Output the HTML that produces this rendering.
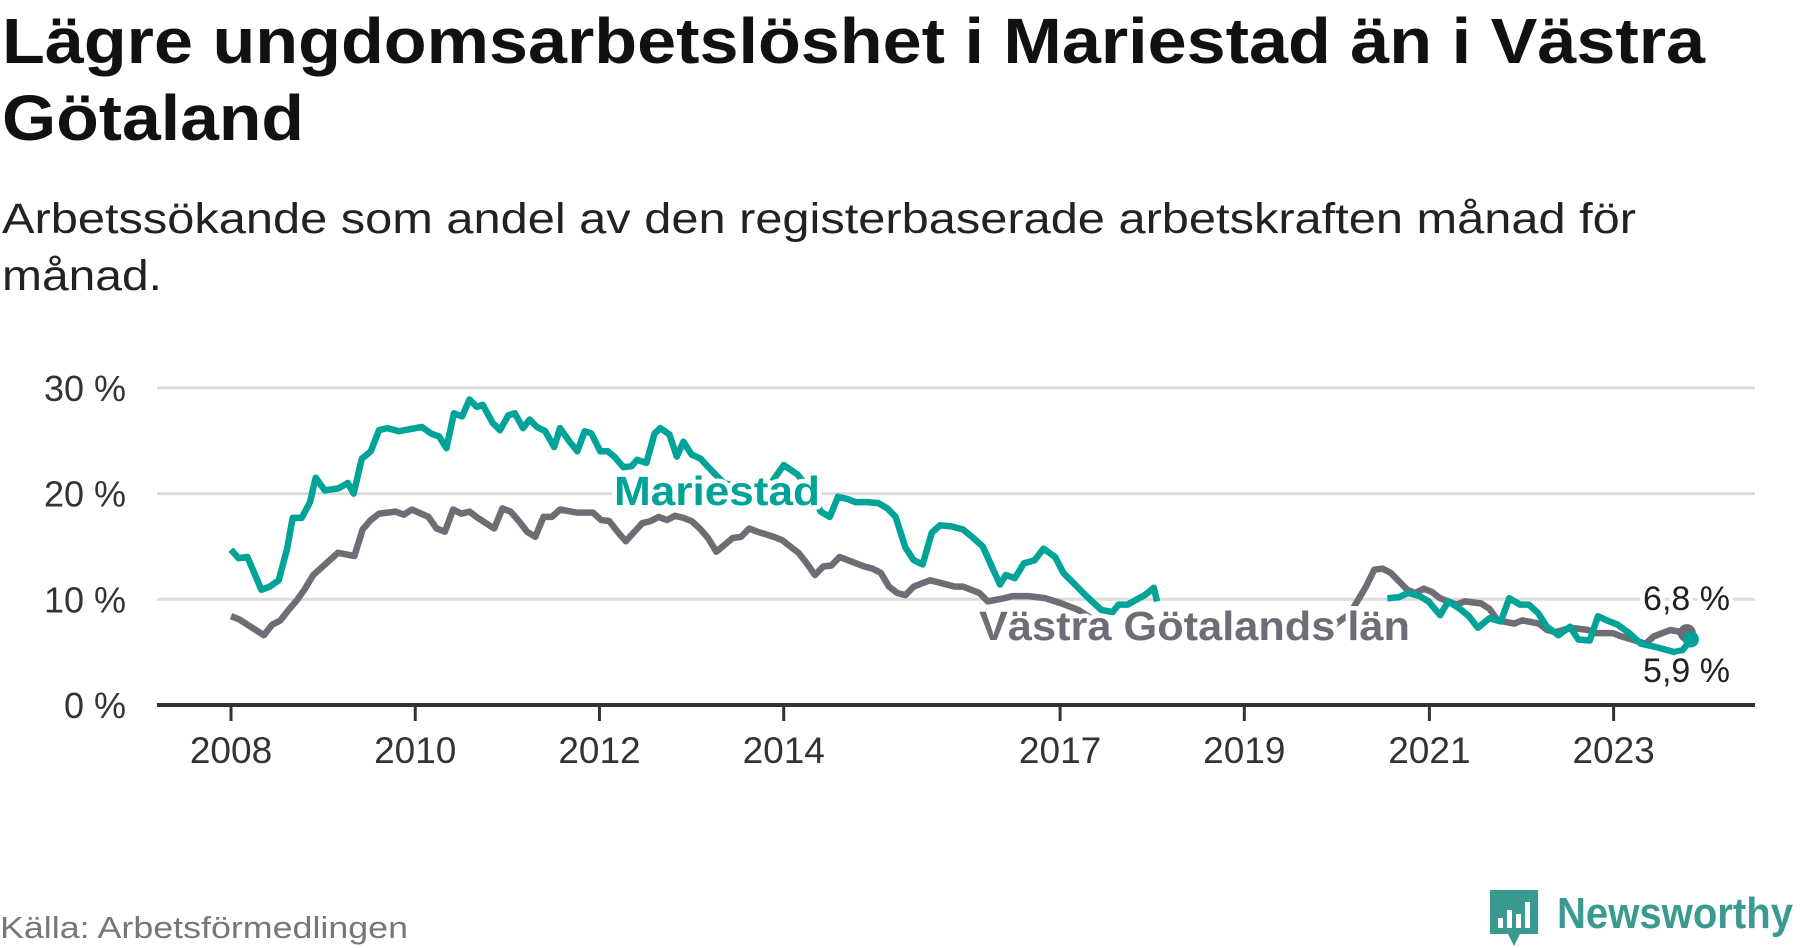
<!DOCTYPE html>
<html><head><meta charset="utf-8"><style>
html,body{margin:0;padding:0;background:#fff;width:1800px;height:948px;overflow:hidden}
svg{display:block}
text{font-family:"Liberation Sans",sans-serif}
</style></head><body>
<svg id="chart" width="1800" height="948" viewBox="0 0 1800 948" xmlns="http://www.w3.org/2000/svg">
<text x="2" y="63" font-size="64" font-weight="bold" fill="#111" textLength="1703" lengthAdjust="spacingAndGlyphs">Lägre ungdomsarbetslöshet i Mariestad än i Västra</text>
<text x="2" y="140" font-size="64" font-weight="bold" fill="#111" textLength="302" lengthAdjust="spacingAndGlyphs">Götaland</text>
<text x="2" y="233" font-size="43" fill="#222" textLength="1634" lengthAdjust="spacingAndGlyphs">Arbetssökande som andel av den registerbaserade arbetskraften månad för</text>
<text x="2" y="290" font-size="43" fill="#222" textLength="160" lengthAdjust="spacingAndGlyphs">månad.</text>
<g id="grid"></g>
<g id="axes"></g>
<g id="series"></g>
<g id="labels"></g>
<text x="0" y="938" font-size="31" fill="#777" textLength="408" lengthAdjust="spacingAndGlyphs">Källa: Arbetsförmedlingen</text>
<g>
<path d="M1490 890 h48 v44 h-18 l-6 12 l-6 -12 h-18 z" fill="#3a9a8f"/>
<rect x="1498" y="918" width="5" height="10" fill="#fff"/>
<rect x="1507" y="910" width="5" height="18" fill="#fff"/>
<rect x="1516" y="914" width="5" height="14" fill="#fff"/>
<rect x="1525" y="902" width="5" height="26" fill="#fff"/>
<text x="1557" y="928" font-size="44" font-weight="bold" fill="#3a9a8f" textLength="236" lengthAdjust="spacingAndGlyphs">Newsworthy</text>
</g>
</svg>
<script>
const yTicks=[0,10,20,30];
const yTickLabels=["0 %","10 %","20 %","30 %"];
const xTickIdx=[0,22.4,44.8,67.2,100.8,123.2,145.7,168.1];
const xTickLabels=["2008","2010","2012","2014","2017","2019","2021","2023"];
const grayMonths=[0,1,2,4,5,6,7,8,9,10,12,13,15,16,17,18,20,21,22,24,25,26,27,28,29,30,31,32,33,34,35,36,37,38,39,40,42,44,45,46,47,48,50,51,52,53,54,55,56,57,58,59,61,62,63,64,66,67,68,69,70,71,72,73,74,75,77,78,79,80,81,82,83,84,85,86,88,89,91,92,94,95,97,99,101,103,105,null,134,136,137,138,139,140,141,142,143,144,145,146,147,149,150,152,153,154,156,157,159,160,161,163,165,166,168,169,172,173,175,177];
const grayValues=[8.4,8.1,7.6,6.6,7.6,8.0,9.0,9.9,11.0,12.3,13.7,14.4,14.1,16.6,17.5,18.1,18.3,18.0,18.5,17.8,16.7,16.4,18.5,18.1,18.3,17.7,17.2,16.7,18.6,18.3,17.4,16.4,15.9,17.8,17.8,18.5,18.2,18.2,17.5,17.4,16.4,15.5,17.2,17.4,17.8,17.5,17.9,17.7,17.4,16.7,15.8,14.5,15.8,15.9,16.7,16.4,15.9,15.6,15.0,14.4,13.4,12.3,13.1,13.2,14.0,13.7,13.1,12.9,12.5,11.2,10.6,10.4,11.2,11.5,11.8,11.6,11.2,11.2,10.6,9.8,10.1,10.3,10.3,10.1,9.6,9.0,8.0,null,7.5,8.6,9.9,11.2,12.8,12.9,12.5,11.7,10.9,10.6,11.0,10.7,10.1,9.5,9.8,9.6,9.1,8.0,7.7,8.0,7.7,7.1,6.9,7.3,7.1,6.8,6.8,6.5,5.8,6.5,7.1,6.8];
const mariMonths=[0,0.9,2,3.7,4.7,5.8,6.8,7.5,8.6,9.6,10.3,11.4,13.1,14.2,14.9,15.9,17,18,19,20.4,23.2,24.3,25.3,26.2,27.1,28.1,29,29.9,30.6,31.8,32.7,33.7,34.5,35.5,36.3,37.2,38.2,39.3,40,41,42.1,43,43.8,44.9,45.8,46.6,47.7,48.7,49.4,50.5,51.5,52.2,53.3,54.2,55,56,57.1,57.8,59.9,62.7,65.5,67.2,68.9,70.7,71.7,72.8,73.8,74.9,75.9,77.3,78.7,79.8,80.8,82,83,84.1,85.2,86.2,87.6,89,90.1,91.4,92.5,93.5,94.2,95.3,96.4,97.7,98.8,100.2,101.2,102.6,104,105.8,107.2,107.9,109,111.1,112.2,112.6,null,131.5,133.5,135,null,138.5,139.6,140.6,142,143.1,144.5,145.6,147,148,149.4,150.5,151.6,153,154.4,155.4,156.7,157.8,158.9,160,161.4,162.8,163.8,165.2,166.2,167.3,168.6,170,171.4,172.1,173.6,175.5,176.5,177.5];
const mariValues=[14.7,13.9,14.0,10.9,11.2,11.8,14.7,17.7,17.7,19.2,21.5,20.3,20.5,21.0,20.0,23.3,24.0,26.0,26.2,25.9,26.3,25.7,25.4,24.3,27.6,27.3,28.9,28.2,28.4,26.7,26.0,27.4,27.6,26.2,27.0,26.3,25.9,24.4,26.2,25.1,24.0,25.9,25.7,24.0,24.0,23.5,22.5,22.6,23.2,22.9,25.7,26.2,25.6,23.5,24.9,23.7,23.3,22.7,21.0,20.5,20.8,22.7,21.8,20.0,18.3,17.8,19.7,19.5,19.2,19.2,19.1,18.6,17.8,14.9,13.7,13.3,16.3,17.0,16.9,16.6,15.9,15.0,13.1,11.4,12.3,12.0,13.4,13.7,14.8,14.0,12.5,11.4,10.3,9.0,8.8,9.5,9.5,10.4,11.1,9.8,9.5,8.5,null,8.0,9.6,8.5,null,10.1,10.2,10.6,10.3,9.8,8.5,9.8,9.1,8.4,7.3,8.2,7.9,10.1,9.5,9.5,8.7,7.4,6.6,7.4,6.2,6.1,8.4,8.0,7.6,6.8,5.8,5.7,5.4,5.0,5.2,6.2,6.8,5.9];
const endLabelGray="6,8 %";
const endLabelMari="5,9 %";

const NS='http://www.w3.org/2000/svg';
const X0=231, XSTEP=8.225, Y0=705, YU=10.57, XL=157, XR=1755;
function xs(i){return X0+i*XSTEP;}
function ys(v){return Y0-v*YU;}
function mk(tag,attrs,parent){const e=document.createElementNS(NS,tag);for(const k in attrs)e.setAttribute(k,attrs[k]);parent.appendChild(e);return e;}
const grid=document.getElementById('grid'),axes=document.getElementById('axes'),series=document.getElementById('series'),labels=document.getElementById('labels');
yTicks.forEach((t,i)=>{
  if(t>0){const l=mk('line',{x1:XL,x2:XR,y1:ys(t),y2:ys(t),stroke:'#dcdcdc','stroke-width':3},grid);
  
  }
  const tx=mk('text',{x:126,y:ys(t)+13,'font-size':36,fill:'#333','text-anchor':'end'},axes);
  tx.textContent=yTickLabels[i];
  
  
});
const ax=mk('line',{x1:XL,x2:XR,y1:Y0,y2:Y0,stroke:'#333','stroke-width':4},axes);


xTickIdx.forEach((t,i)=>{
  const tk=mk('line',{x1:xs(t),x2:xs(t),y1:Y0,y2:Y0+16,stroke:'#333','stroke-width':3},axes);
  
  
  const tx=mk('text',{x:xs(t),y:763,'font-size':37,fill:'#333','text-anchor':'middle'},axes);
  tx.textContent=xTickLabels[i];
  
  
});
function pathFor(ms,vs){let d='',pen=false;const n=Math.min(ms.length,vs.length);for(let i=0;i<n;i++){if(ms[i]===null||vs[i]===null||vs[i]===undefined){pen=false;continue;}d+=(pen?'L':'M')+xs(ms[i]).toFixed(1)+' '+ys(vs[i]).toFixed(1);pen=true;}return d;}
function lastPt(ms,vs){const n=Math.min(ms.length,vs.length);for(let i=n-1;i>=0;i--)if(ms[i]!==null&&vs[i]!==null)return [ms[i],vs[i]];}
const gp=mk('path',{d:pathFor(grayMonths,grayValues),fill:'none',stroke:'#6e6d75','stroke-width':6.5,'stroke-linejoin':'round'},series);


const mp=mk('path',{d:pathFor(mariMonths,mariValues),fill:'none',stroke:'#00a398','stroke-width':6.5,'stroke-linejoin':'round'},series);


const gl=lastPt(grayMonths,grayValues),ml=lastPt(mariMonths,mariValues);
const gd=mk('circle',{cx:xs(gl[0]),cy:ys(gl[1]),r:9,fill:'#6e6d75'},series);


const md=mk('circle',{cx:xs(ml[0]),cy:ys(ml[1]),r:8,fill:'#00a398'},series);


function lab(txt,x,y,size,col,bold,anchor,name,len){
  const a={x:x,y:y,'font-size':size,fill:col,'font-weight':bold?'bold':'normal','text-anchor':anchor,stroke:'#fff','stroke-width':9,'paint-order':'stroke','stroke-linejoin':'round'};
  if(len){a.textLength=len;a.lengthAdjust='spacingAndGlyphs';}
  const t=mk('text',a,labels);
  t.textContent=txt;
  
  
  return t;
}
lab('Mariestad',614,505,41,'#00a398',true,'start','mariestad-label',206);
lab('Västra Götalands län',979,640,41,'#6e6d75',true,'start','vastra-gotaland-label',431);
lab(endLabelGray,1730,610,34,'#222',false,'end','vastra-gotaland-end-value');
lab(endLabelMari,1730,682,34,'#222',false,'end','mariestad-end-value');
</script>
</body></html>
